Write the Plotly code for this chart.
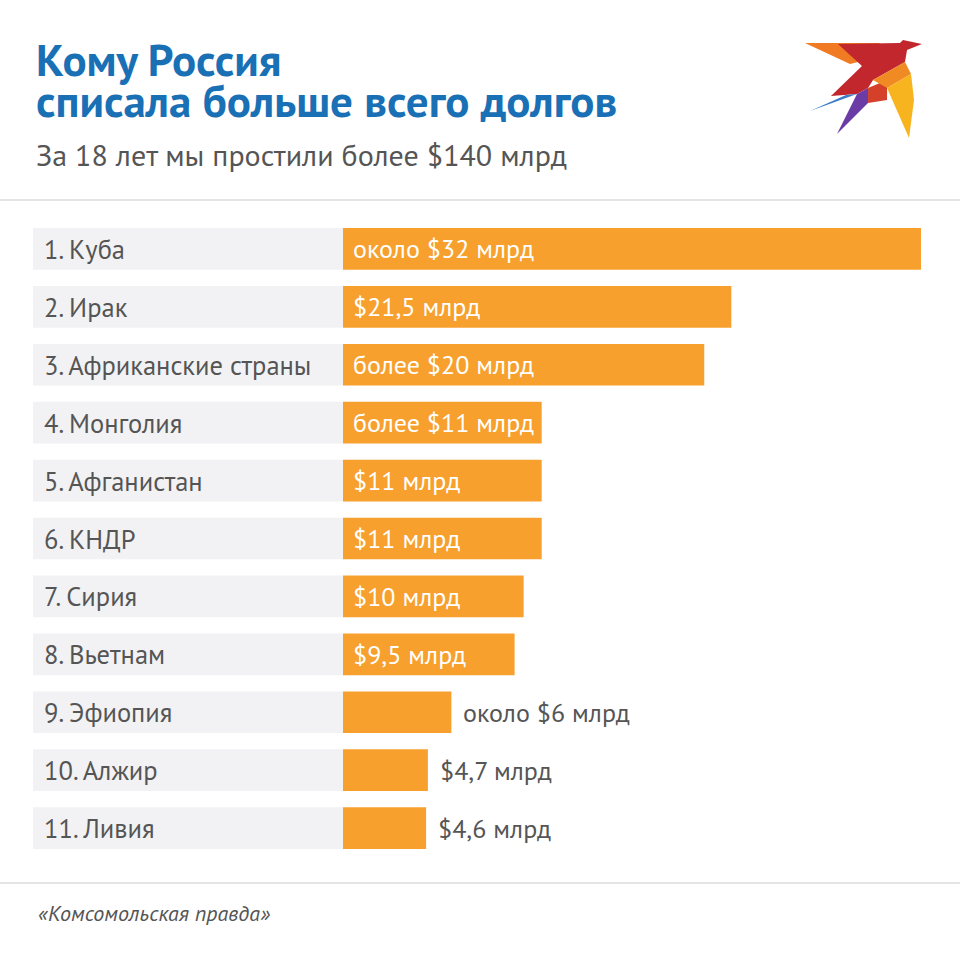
import plotly.graph_objects as go

# Data
countries = ["1. Куба", "2. Ирак", "3. Африканские страны", "4. Монголия", "5. Афганистан",
             "6. КНДР", "7. Сирия", "8. Вьетнам", "9. Эфиопия", "10. Алжир", "11. Ливия"]
debts = [32, 21.5, 20, 11, 11, 11, 10, 9.5, 6, 4.7, 4.6]
debt_labels = ["около $32 млрд", "$21,5 млрд", "более $20 млрд", "более $11 млрд", "$11 млрд",
               "$11 млрд", "$10 млрд", "$9,5 млрд", "около $6 млрд", "$4,7 млрд", "$4,6 млрд"]
label_inside = [True, True, True, True, True, True, True, True, False, False, False]

W, H = 960, 953
FONT = "PT Sans, Roboto, sans-serif"
ORANGE = "#F7A02D"
BLUE = "#1A70B5"
GREY_TXT = "#555555"

def px(x, y):
    # pixel -> paper coords
    return x / W, 1 - y / H

fig = go.Figure()

fig.add_trace(go.Bar(
    y=countries,
    x=debts,
    orientation="h",
    width=0.72,
    marker=dict(color=ORANGE, line=dict(width=0)),
    hoverinfo="skip",
))

shapes = []
annotations = []

# grey label boxes + names
for i, name in enumerate(countries):
    shapes.append(dict(type="rect", xref="paper", yref="y",
                       x0=33 / W, x1=343 / W, y0=i - 0.36, y1=i + 0.36,
                       fillcolor="#F2F2F4", line=dict(width=0), layer="below"))
    annotations.append(dict(xref="paper", yref="y", x=42 / W, y=name, text=name,
                            xanchor="left", showarrow=False,
                            font=dict(family=FONT, size=26.5, color=GREY_TXT)))

# value labels
for name, v, txt, inside in zip(countries, debts, debt_labels, label_inside):
    if inside:
        annotations.append(dict(xref="x", yref="y", x=0, y=name, text=txt, xanchor="left",
                                xshift=8, showarrow=False,
                                font=dict(family=FONT, size=26, color="white")))
    else:
        annotations.append(dict(xref="x", yref="y", x=v, y=name, text=txt, xanchor="left",
                                xshift=10, showarrow=False,
                                font=dict(family=FONT, size=26, color=GREY_TXT)))

# titles
x0, y0 = px(34, 59)
annotations.append(dict(xref="paper", yref="paper", x=x0, y=y0, text="<b>Кому Россия</b>",
                        xanchor="left", yanchor="middle", showarrow=False,
                        font=dict(family=FONT, size=45, color=BLUE)))
x0, y0 = px(34, 100)
annotations.append(dict(xref="paper", yref="paper", x=x0, y=y0,
                        text="<b>списала больше всего долгов</b>",
                        xanchor="left", yanchor="middle", showarrow=False,
                        font=dict(family=FONT, size=45, color=BLUE)))
x0, y0 = px(34, 154)
annotations.append(dict(xref="paper", yref="paper", x=x0, y=y0,
                        text="За 18 лет мы простили более $140 млрд",
                        xanchor="left", yanchor="middle", showarrow=False,
                        font=dict(family=FONT, size=30, color=GREY_TXT)))
x0, y0 = px(36, 913)
annotations.append(dict(xref="paper", yref="paper", x=x0, y=y0,
                        text="<i>«Комсомольская правда»</i>",
                        xanchor="left", yanchor="middle", showarrow=False,
                        font=dict(family=FONT, size=22, color=GREY_TXT)))

# separators
for yy in (200, 883):
    shapes.append(dict(type="line", xref="paper", yref="paper", x0=0, x1=1,
                       y0=1 - yy / H, y1=1 - yy / H, line=dict(color="#E4E4E6", width=2)))

# bird logo (decoration)
bird = [
    ([(805, 43), (880, 43), (866, 60), (850, 64)], "#F07B22"),
    ([(838, 44), (900, 43), (903, 40), (922, 44), (907, 50), (905, 62), (873, 80),
      (868, 88), (857, 94), (831, 96), (862, 66)], "#C1272D"),
    ([(810, 111), (846, 95), (857, 94)], "#3B7DC8"),
    ([(837, 134), (857, 94), (868, 88), (868, 103)], "#6B3BA6"),
    ([(868, 88), (887, 80), (887, 100), (868, 103)], "#D4402A"),
    ([(873, 80), (905, 62), (911, 74), (887, 88)], "#F08A22"),
    ([(887, 88), (911, 74), (914, 100), (909, 138)], "#F8B41E"),
]
for pts, col in bird:
    path = "M " + " L ".join(f"{x / W:.4f},{1 - y / H:.4f}" for x, y in pts) + " Z"
    shapes.append(dict(type="path", xref="paper", yref="paper", path=path,
                       fillcolor=col, line=dict(width=0)))

fig.update_layout(
    width=W, height=H,
    margin=dict(l=0, r=0, t=0, b=0),
    paper_bgcolor="white", plot_bgcolor="white",
    showlegend=False,
    xaxis=dict(domain=[343 / W, 921 / W], range=[0, 32], visible=False, fixedrange=True),
    yaxis=dict(domain=[1 - 857 / H, 1 - 220 / H], autorange="reversed", visible=False,
               fixedrange=True),
    shapes=shapes,
    annotations=annotations,
)

# page has a default 8px body margin; drop it so the figure sits at the window origin
fig.write_html("out.html", config={"displayModeBar": False},
               post_script="document.body.style.margin='0';")
